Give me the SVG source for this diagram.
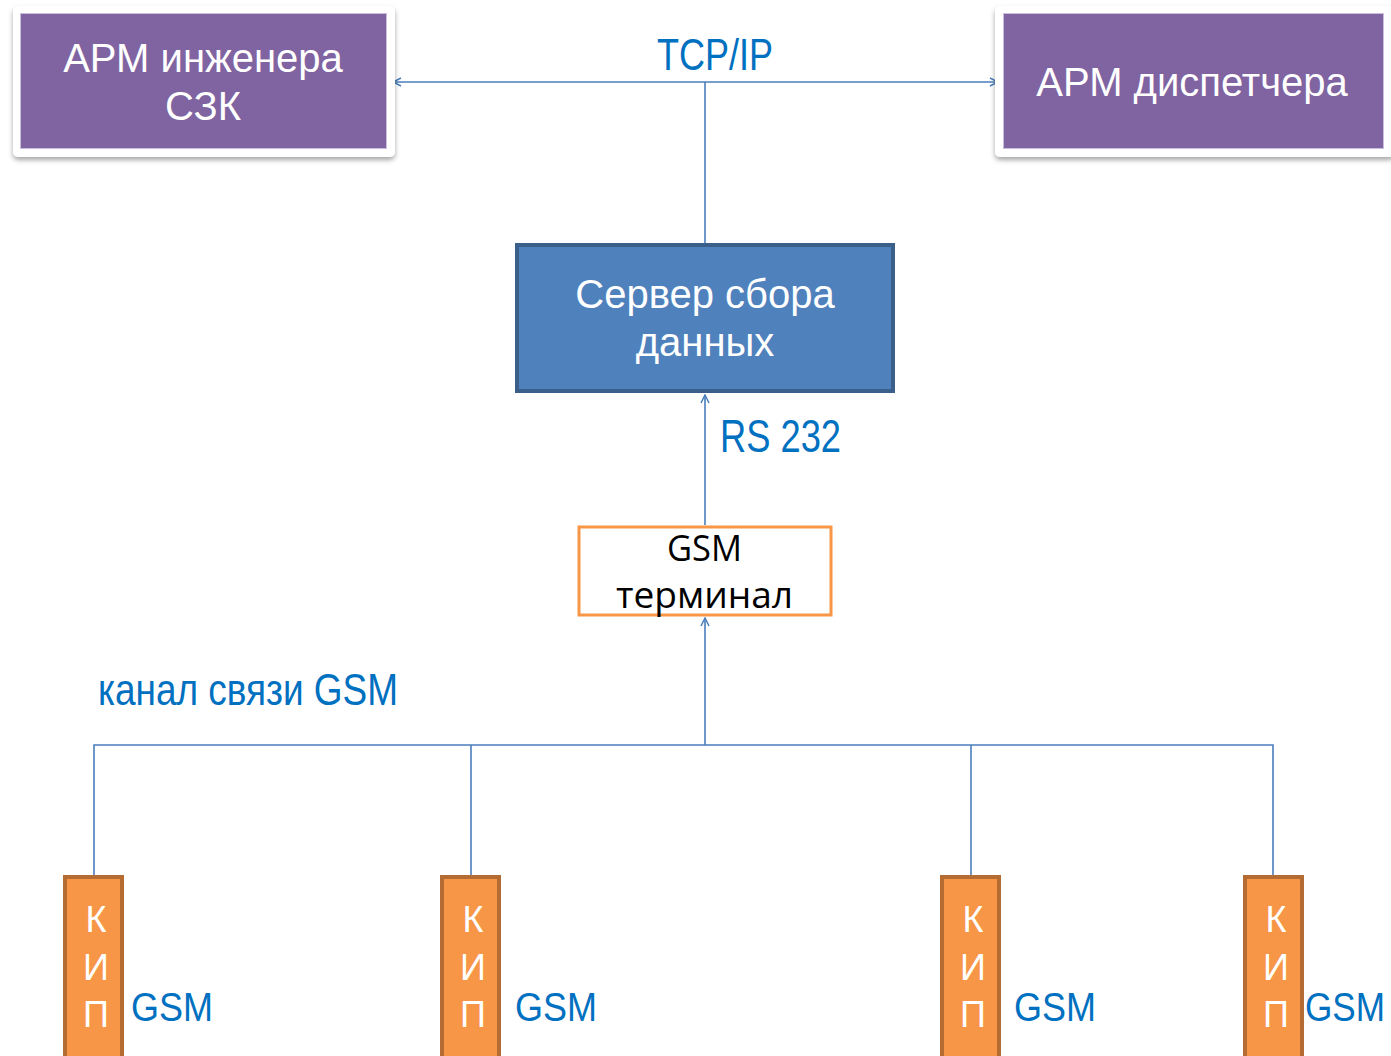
<svg xmlns="http://www.w3.org/2000/svg" width="1391" height="1056" viewBox="0 0 1391 1056">
<style>
.lbl{font-family:"Liberation Sans",Arial,sans-serif;fill:#0070c0;}
.wt{font-family:"Liberation Sans",Arial,sans-serif;fill:#ffffff;font-size:40px;text-anchor:middle;}
.kip{fill:#f79646;stroke:#b46c32;stroke-width:4;}
.kl{font-family:"Liberation Sans",Arial,sans-serif;fill:#ffffff;font-size:36px;text-anchor:middle;}
.con{fill:none;stroke:#4a7ebb;stroke-width:1.6;}
.frame{fill:#ffffff;}
.purple{fill:#8064a2;stroke:#c9bfdc;stroke-width:1;}
</style>
<defs>
<filter id="sh" x="-5%" y="-10%" width="110%" height="130%">
<feDropShadow dx="0" dy="3" stdDeviation="2.5" flood-color="#000" flood-opacity="0.35"/>
</filter>
<marker id="ar" viewBox="0 0 10 10" refX="9" refY="5" markerWidth="10" markerHeight="10" markerUnits="userSpaceOnUse" orient="auto-start-reverse">
<path d="M1,1 L9,5 L1,9" fill="none" stroke="#4a7ebb" stroke-width="1.5"/>
</marker>
</defs>
<rect width="1391" height="1056" fill="#ffffff"/>

<g id="connectors">
<line class="con" x1="393" y1="82" x2="998" y2="82" marker-start="url(#ar)" marker-end="url(#ar)"/>
<line class="con" x1="705" y1="82" x2="705" y2="243"/>
<line class="con" x1="705" y1="525" x2="705" y2="395" marker-end="url(#ar)"/>
<line class="con" x1="705" y1="745" x2="705" y2="618" marker-end="url(#ar)"/>
<polyline class="con" points="94,875 94,745 1273,745 1273,875"/>
<line class="con" x1="471" y1="745" x2="471" y2="875"/>
<line class="con" x1="971" y1="745" x2="971" y2="875"/>
</g>

<g id="arm-engineer">
<rect class="frame" x="13" y="6" width="382" height="151" rx="5" filter="url(#sh)"/>
<rect class="purple" x="20.5" y="13.5" width="366" height="135"/>
<text class="wt" x="203" y="72">АРМ инженера</text>
<text class="wt" x="203" y="120">СЗК</text>
</g>

<g id="arm-dispatcher">
<rect class="frame" x="995" y="6" width="400" height="151" rx="5" filter="url(#sh)"/>
<rect class="purple" x="1003.5" y="13.5" width="380" height="135"/>
<text class="wt" x="1192" y="96">АРМ диспетчера</text>
</g>

<g id="tcpip-label">
<text class="lbl" x="657" y="70" font-size="45" textLength="116" lengthAdjust="spacingAndGlyphs">TCP/IP</text>
</g>

<g id="server">
<rect x="517" y="245" width="376" height="146" fill="#4f81bd" stroke="#3a5f8b" stroke-width="4"/>
<text class="wt" x="705" y="308">Сервер сбора</text>
<text class="wt" x="705" y="356">данных</text>
</g>

<g id="rs232-label">
<text class="lbl" x="720" y="452" font-size="46" textLength="121" lengthAdjust="spacingAndGlyphs">RS 232</text>
</g>

<g id="gsm-terminal">
<rect x="579" y="527" width="252" height="88" fill="#ffffff" stroke="#f79646" stroke-width="3"/>
<text x="667" y="561" font-family="'Open Sans','Liberation Sans',sans-serif" font-size="36" fill="#000" textLength="75" lengthAdjust="spacingAndGlyphs">GSM</text>
<text x="616" y="608" font-family="'Open Sans','Liberation Sans',sans-serif" font-size="36" fill="#000" textLength="177" lengthAdjust="spacingAndGlyphs">терминал</text>
</g>

<g id="gsm-channel-label">
<text class="lbl" x="98" y="705" font-size="44" textLength="300" lengthAdjust="spacingAndGlyphs">канал связи GSM</text>
</g>

<g id="kip1">
<rect class="kip" x="65" y="877" width="57" height="185"/>
<text class="kl" x="96" y="932">К</text>
<text class="kl" x="96" y="980">И</text>
<text class="kl" x="96" y="1027">П</text>
<text class="lbl" x="131" y="1021" font-size="40" textLength="82" lengthAdjust="spacingAndGlyphs">GSM</text>
</g>

<g id="kip2">
<rect class="kip" x="442" y="877" width="57" height="185"/>
<text class="kl" x="473" y="932">К</text>
<text class="kl" x="473" y="980">И</text>
<text class="kl" x="473" y="1027">П</text>
<text class="lbl" x="515" y="1021" font-size="40" textLength="82" lengthAdjust="spacingAndGlyphs">GSM</text>
</g>

<g id="kip3">
<rect class="kip" x="942" y="877" width="57" height="185"/>
<text class="kl" x="973" y="932">К</text>
<text class="kl" x="973" y="980">И</text>
<text class="kl" x="973" y="1027">П</text>
<text class="lbl" x="1014" y="1021" font-size="40" textLength="82" lengthAdjust="spacingAndGlyphs">GSM</text>
</g>

<g id="kip4">
<rect class="kip" x="1245" y="877" width="57" height="185"/>
<text class="kl" x="1276" y="932">К</text>
<text class="kl" x="1276" y="980">И</text>
<text class="kl" x="1276" y="1027">П</text>
<text class="lbl" x="1305" y="1021" font-size="40" textLength="80" lengthAdjust="spacingAndGlyphs">GSM</text>
</g>
</svg>
